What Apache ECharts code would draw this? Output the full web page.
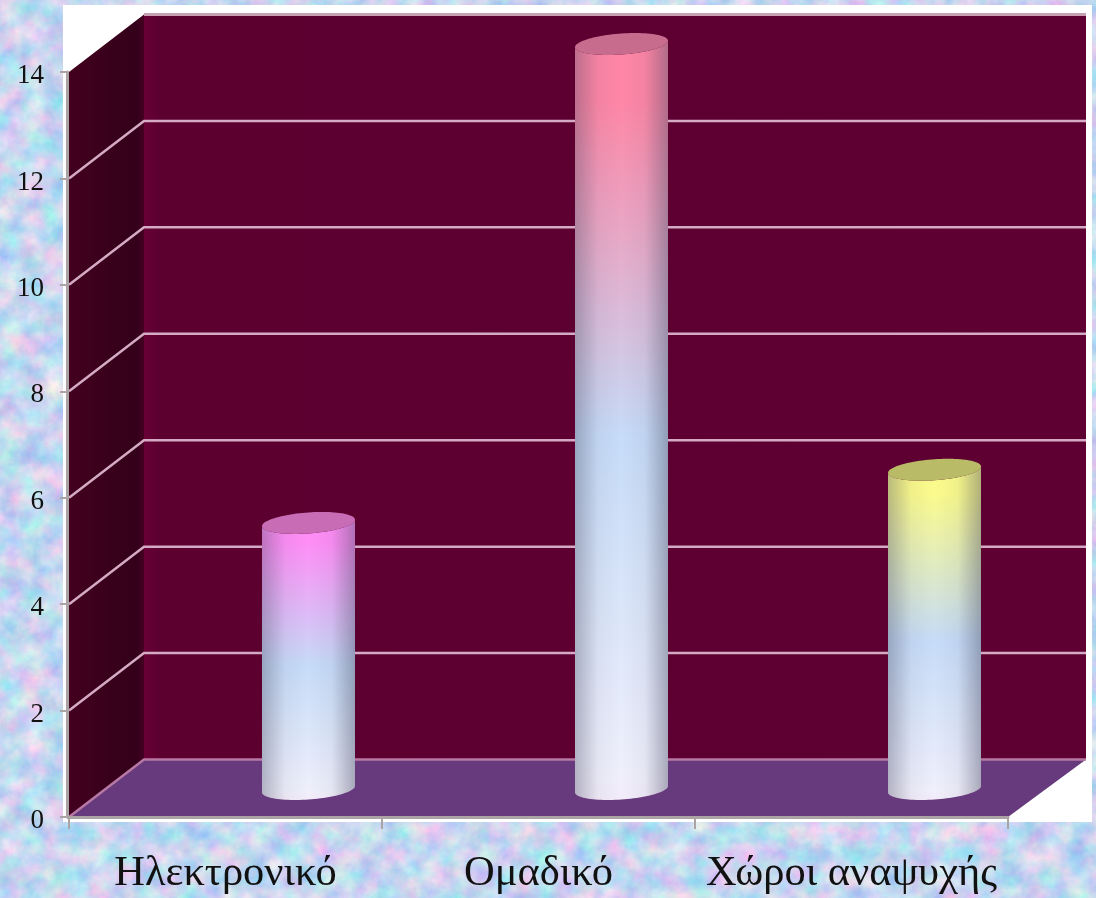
<!DOCTYPE html>
<html>
<head>
<meta charset="utf-8">
<style>
html,body{margin:0;padding:0;width:1096px;height:898px;overflow:hidden;background:#c4d8f0}
#bg{position:absolute;left:0;top:0}
#main{position:absolute;left:0;top:0;width:1096px;height:898px;filter:blur(0.55px)}
</style>
<script src="https://cdn.jsdelivr.net/npm/echarts@6/dist/echarts.min.js"></script>
</head>
<body>
<svg id="bg" width="1096" height="898" xmlns="http://www.w3.org/2000/svg">
  <filter id="mottle" x="0" y="0" width="100%" height="100%" color-interpolation-filters="sRGB">
    <feTurbulence type="fractalNoise" baseFrequency="0.045" numOctaves="4" seed="11"/>
    <feColorMatrix type="matrix" values="0.55 0 0 0 0.50  0 0.32 0 0 0.68  0 0 0.1 0 0.89  0 0 0 0 1"/>
  </filter>
  <rect width="1096" height="898" filter="url(#mottle)"/>
</svg>
<div id="main"></div>
<script>
const categories = ['Ηλεκτρονικό', 'Ομαδικό', 'Χώροι αναψυχής'];
const values = [5, 14, 6];
const yTicks = [0, 2, 4, 6, 8, 10, 12, 14];

const barTopColors = ['#ff8ef6', '#ff86a6', '#fbfb8c'];
const barCapColors = ['#c96cb6', '#c86c8e', '#b9bb66'];

// 3D room depth, in pixels
const depthLeft = 75, depthRight = 78, depthY = 57.5;
const barShiftX = 83, barShiftY = 28, barRx = 46.5, barRy = 10.5, barTilt = 3.2;

function ringPoint(cx, cy, t) {
  return [cx + barRx * Math.cos(t), cy + barRy * Math.sin(t) - barTilt * Math.cos(t)];
}

function renderRoom(params, api) {
  const g = params.coordSys;
  const L = g.x, R = g.x + g.width;
  const yBottom = api.coord([0, 0])[1];
  const yTop = api.coord([0, 14])[1];
  const children = [];
  const poly = (points, fill) => children.push({type: 'polygon', shape: {points}, style: {fill}});
  const line = (points, stroke, lineWidth) =>
    children.push({type: 'polyline', shape: {points}, style: {stroke, lineWidth, fill: null}});
  // white plate behind the room
  poly([[L - 6, yTop - 67], [1092, yTop - 67], [1092, yBottom + 5], [L - 6, yBottom + 5]], '#ffffff');
  // back wall
  poly([[L + depthLeft, yTop - depthY], [R + depthRight, yTop - depthY], [R + depthRight, yBottom - depthY], [L + depthLeft, yBottom - depthY]],
    {type: 'linear', x: 0, y: 0, x2: 1, y2: 0, colorStops: [
      {offset: 0, color: '#6a0036'}, {offset: 0.015, color: '#5c0030'}, {offset: 1, color: '#5e0032'}]});
  // side wall
  poly([[L, yTop], [L + depthLeft, yTop - depthY], [L + depthLeft, yBottom - depthY], [L, yBottom]],
    {type: 'linear', x: 0, y: 0, x2: 1, y2: 0, colorStops: [
      {offset: 0, color: '#42001f'}, {offset: 0.9, color: '#33001a'}, {offset: 1, color: '#450022'}]});
  // floor
  poly([[L, yBottom], [L + depthLeft, yBottom - depthY], [R + depthRight, yBottom - depthY], [R, yBottom]], '#663a7c');
  line([[L - 2, yBottom + 0.5], [R, yBottom + 0.5]], '#5a4a64', 2);
  // gridlines through the tick values
  yTicks.forEach(function (t) {
    const y = api.coord([0, t])[1];
    if (t === 14) {
      line([[L + depthLeft, y - depthY], [R + depthRight, y - depthY]], '#c8a0b4', 3);
    } else {
      const col = t === 0 ? '#b878a4' : '#d4aac4';
      line([[L, y], [L + depthLeft, y - depthY], [R + depthRight, y - depthY]], col, 2.5);
    }
  });
  return {type: 'group', children};
}

function renderCylinder(params, api) {
  const i = api.value(0);
  const base = api.coord([i, 0]);
  const top = api.coord([i, api.value(1)]);
  const cx = base[0] + barShiftX, yB = base[1] - barShiftY, yT = top[1] - barShiftY;
  const bodyPts = [], capPts = [];
  const N = 48;
  for (let k = 0; k <= N; k++) bodyPts.push(ringPoint(cx, yB, Math.PI * k / N));
  for (let k = 0; k <= N; k++) bodyPts.push(ringPoint(cx, yT, Math.PI - Math.PI * k / N));
  for (let k = 0; k < 2 * N; k++) capPts.push(ringPoint(cx, yT, 2 * Math.PI * k / (2 * N)));
  const topColor = barTopColors[i];
  const capColor = barCapColors[i];
  return {
    type: 'group',
    children: [
      {type: 'polygon', shape: {points: bodyPts}, style: {
        fill: {type: 'linear', x: 0, y: 0, x2: 0, y2: 1, colorStops: [
          {offset: 0, color: topColor},
          {offset: 0.08, color: topColor},
          {offset: 0.52, color: '#c6dcf8'},
          {offset: 0.97, color: '#f0f0fc'},
          {offset: 1, color: '#f4ecfa'}]}}},
      {type: 'polygon', shape: {points: bodyPts}, style: {
        fill: {type: 'linear', x: 0, y: 0, x2: 1, y2: 0, colorStops: [
          {offset: 0, color: 'rgba(70,70,95,0.36)'},
          {offset: 0.25, color: 'rgba(70,70,95,0.06)'},
          {offset: 0.5, color: 'rgba(70,70,95,0)'},
          {offset: 0.75, color: 'rgba(70,70,95,0.06)'},
          {offset: 1, color: 'rgba(70,70,95,0.42)'}]}}},
      {type: 'polygon', shape: {points: capPts}, style: {fill: capColor}}
    ]
  };
}

const chart = echarts.init(document.getElementById('main'), null, {renderer: 'canvas'});
chart.setOption({
  animation: false,
  backgroundColor: 'transparent',
  grid: {left: 69, top: 72, width: 939, height: 745, containLabel: false},
  xAxis: {
    type: 'category', data: categories, z: 5, offset: 2,
    axisLine: {lineStyle: {color: '#aca4a4', width: 3}},
    axisTick: {show: true, length: 12, lineStyle: {color: '#aca4a4', width: 2}},
    axisLabel: {interval: 0, fontFamily: 'Liberation Serif', fontSize: 42.5, color: '#111111', margin: 33},
    splitLine: {show: false}
  },
  yAxis: {
    type: 'value', min: 0, max: 14, interval: 2, z: 5, offset: 2,
    axisLine: {show: true, lineStyle: {color: '#aca4a4', width: 3}},
    axisTick: {show: true, length: 7, lineStyle: {color: '#aca4a4', width: 2}},
    axisLabel: {
      margin: 23,
      formatter: '{v|{value}}',
      rich: {v: {fontFamily: 'Liberation Serif', fontSize: 27, color: '#111111', padding: [8, 0, 0, 0]}}
    },
    splitLine: {show: false}
  },
  series: [
    {type: 'custom', name: 'room', z: 1, silent: true, clip: false, renderItem: renderRoom,
      data: [[0, 0]], encode: {x: 0, y: 1}},
    {type: 'custom', name: 'values', z: 2, silent: true, clip: false, renderItem: renderCylinder,
      data: values.map((v, i) => [i, v]), encode: {x: 0, y: 1}}
  ]
});
</script>
</body>
</html>
